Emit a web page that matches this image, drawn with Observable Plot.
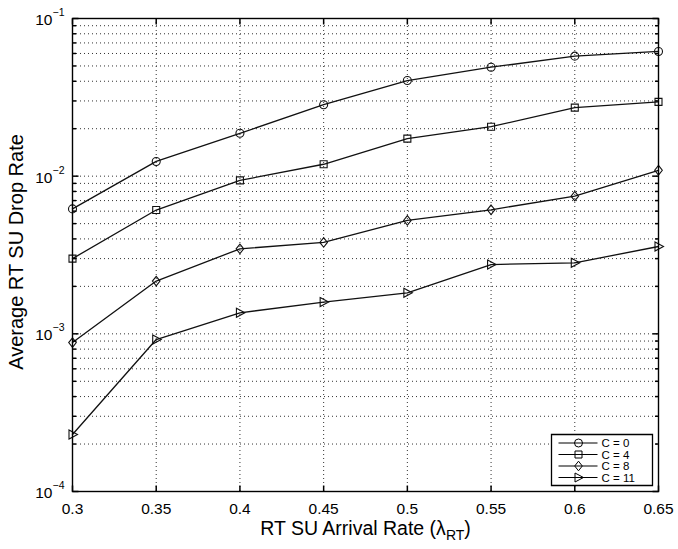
<!DOCTYPE html>
<html><head><meta charset="utf-8">
<script src="https://cdn.jsdelivr.net/npm/d3@7"></script>
<script src="https://cdn.jsdelivr.net/npm/@observablehq/plot@0.6"></script>
<style>
body{margin:0;background:#fff}
#chart{width:678px;height:549px}
</style>
</head><body><div id="chart"></div>
<script>
// ---- data ----
const arrivalRates = [0.3, 0.35, 0.4, 0.45, 0.5, 0.55, 0.6, 0.65];
const seriesNames = ["C = 0", "C = 4", "C = 8", "C = 11"];
const dropC0  = [0.0062, 0.0124, 0.0187, 0.0284, 0.0404, 0.0491, 0.0577, 0.0618];
const dropC4  = [0.0030, 0.0061, 0.0094, 0.0119, 0.0173, 0.0206, 0.0272, 0.0296];
const dropC8  = [0.00088, 0.00216, 0.00346, 0.0038, 0.00524, 0.00612, 0.00747, 0.0109];
const dropC11 = [0.00023, 0.00092, 0.00136, 0.00159, 0.00182, 0.00275, 0.00282, 0.00358];
const xTickValues = [0.3, 0.35, 0.4, 0.45, 0.5, 0.55, 0.6, 0.65];
const xTickLabels = ["0.3", "0.35", "0.4", "0.45", "0.5", "0.55", "0.6", "0.65"];
const yMajorTicks = [1e-4, 1e-3, 1e-2, 1e-1];
const yTickExponents = ["\u22124", "\u22123", "\u22122", "\u22121"];
const yMinorMultipliers = [2, 3, 4, 5, 6, 7, 8, 9];
const xLabel = "RT SU Arrival Rate (\u03bb";
const xLabelSub = "RT";
const yLabel = "Average RT SU Drop Rate";

// ---- build tables ----
const seriesValues = [dropC0, dropC4, dropC8, dropC11];
const rows = seriesNames.flatMap((name, s) =>
  arrivalRates.map((x, i) => ({series: name, x, y: seriesValues[s][i]})));
const yMinorTicks = yMajorTicks.slice(0, 3).flatMap(d => yMinorMultipliers.map(m => +(d * m).toPrecision(3)));
const yGridTicks = [...yMinorTicks, ...yMajorTicks];

// ---- symbols (styling) ----
const sym = f => ({draw: f});
const symCircle = sym(c => { c.moveTo(4, 0); c.arc(0, 0, 4, 0, 2 * Math.PI); });
const symSquare = sym(c => { c.rect(-3.5, -3.5, 7, 7); });
const symDiamond = sym(c => { c.moveTo(0, -4.8); c.lineTo(3.8, 0); c.lineTo(0, 4.8); c.lineTo(-3.8, 0); c.closePath(); });
const symTriRight = sym(c => { c.moveTo(-3.5, -4.5); c.lineTo(5, 0); c.lineTo(-3.5, 4.5); c.closePath(); });
const seriesSymbols = [symCircle, symSquare, symDiamond, symTriRight];
const seg = (x0, y0, x1, y1) => sym(c => { c.moveTo(x0, y0); c.lineTo(x1, y1); });

const font = "'Liberation Sans', Arial, Helvetica, sans-serif";

// legend geometry (relative to bottom-right corner of the frame)
const legendRowDy = [-48.5, -37, -25.5, -14];
const legendMarks = seriesNames.flatMap((name, i) => [
  Plot.dot([name], {frameAnchor: "bottom-right", dx: -80, dy: legendRowDy[i], symbol: seg(-20, 0, 19, 0), stroke: "black", strokeWidth: 1.1, fill: "none"}),
  Plot.dot([name], {frameAnchor: "bottom-right", dx: -80, dy: legendRowDy[i], symbol: seriesSymbols[i], stroke: "black", strokeWidth: 1, fill: "none"}),
  Plot.text([name], {frameAnchor: "bottom-right", dx: -57, dy: legendRowDy[i] + 0.5, text: d => d, textAnchor: "start", lineAnchor: "middle", fontSize: 11.5, fill: "black"})
]);

const chart = Plot.plot({
  width: 678, height: 549,
  marginLeft: 72, marginRight: 20, marginTop: 18, marginBottom: 58,
  style: {fontFamily: font, background: "white", color: "black", overflow: "visible"},
  x: {domain: [0.3, 0.65], axis: null},
  y: {type: "log", domain: [1e-4, 1e-1], axis: null},
  marks: [
    // dotted grid
    Plot.ruleX(xTickValues, {x: d => d, stroke: "#333", strokeWidth: 1, strokeDasharray: "1,3"}),
    Plot.ruleY(yGridTicks, {y: d => d, stroke: "#333", strokeWidth: 1, strokeDasharray: "1,3"}),
    // series
    Plot.line(rows, {x: "x", y: "y", z: "series", stroke: "#111", strokeWidth: 1.3}),
    ...seriesNames.map((name, i) =>
      Plot.dot(rows.filter(r => r.series === name), {x: "x", y: "y", symbol: seriesSymbols[i], stroke: "#111", strokeWidth: 1.1, fill: "none"})),
    // frame
    Plot.frame({stroke: "black", strokeWidth: 1.4}),
    // inward ticks
    Plot.dot(xTickValues, {x: d => d, frameAnchor: "bottom", symbol: seg(0, 0, 0, -6), stroke: "black", fill: "none"}),
    Plot.dot(xTickValues, {x: d => d, frameAnchor: "top", symbol: seg(0, 0, 0, 6), stroke: "black", fill: "none"}),
    Plot.dot(yMajorTicks, {y: d => d, frameAnchor: "left", symbol: seg(0, 0, 6, 0), stroke: "black", fill: "none"}),
    Plot.dot(yMajorTicks, {y: d => d, frameAnchor: "right", symbol: seg(0, 0, -6, 0), stroke: "black", fill: "none"}),
    Plot.dot(yMinorTicks, {y: d => d, frameAnchor: "left", symbol: seg(0, 0, 3.5, 0), stroke: "black", fill: "none"}),
    Plot.dot(yMinorTicks, {y: d => d, frameAnchor: "right", symbol: seg(0, 0, -3.5, 0), stroke: "black", fill: "none"}),
    // x tick labels
    Plot.text(xTickValues, {x: d => d, frameAnchor: "bottom", dy: 18, lineAnchor: "middle", text: (d, i) => xTickLabels[i], fontSize: 15.5, fill: "black"}),
    // y tick labels: "10" with superscript exponent
    Plot.text(yMajorTicks, {y: d => d, frameAnchor: "left", dx: -20, dy: 1.5, lineAnchor: "middle", text: () => "10", textAnchor: "end", fontSize: 15.5, fill: "black"}),
    Plot.text(yMajorTicks, {y: d => d, frameAnchor: "left", dx: -20, dy: -6, lineAnchor: "middle", text: (d, i) => yTickExponents[i], textAnchor: "start", fontSize: 10.5, fill: "black"}),
    // axis labels
    Plot.text([xLabel], {frameAnchor: "bottom", dy: 37.5, lineAnchor: "middle", textAnchor: "middle", text: d => d, fontSize: 19.5, fill: "black"}),
    Plot.text([yLabel], {frameAnchor: "left", dx: -56, dy: -3, rotate: -90, lineAnchor: "middle", textAnchor: "middle", text: d => d, fontSize: 20, fill: "black"}),
    // legend box + entries
    Plot.dot([0], {frameAnchor: "bottom-right", symbol: sym(c => { c.rect(-107, -57, 101, 51); }), fill: "white", stroke: "black", strokeWidth: 1.3}),
    ...legendMarks
  ]
});

// subscript in the x-axis label
const lbl = Array.from(chart.querySelectorAll("text")).find(t => t.textContent === xLabel);
if (lbl) {
  lbl.textContent = "";
  const ns = "http://www.w3.org/2000/svg";
  const t1 = document.createElementNS(ns, "tspan"); t1.textContent = xLabel;
  const t2 = document.createElementNS(ns, "tspan"); t2.textContent = xLabelSub; t2.setAttribute("dy", "5"); t2.setAttribute("font-size", "14");
  const t3 = document.createElementNS(ns, "tspan"); t3.textContent = ")"; t3.setAttribute("dy", "-5");
  lbl.append(t1, t2, t3);
}
document.getElementById("chart").append(chart);
</script>
</body></html>
